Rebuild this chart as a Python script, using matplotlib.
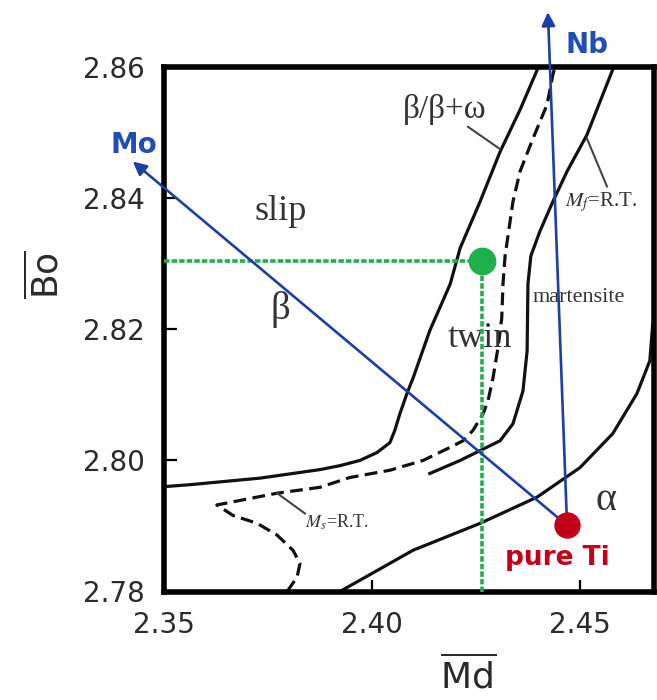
import matplotlib.pyplot as plt
import numpy as np

# boundaries (Md, Bo)
bw_md = [2.3500, 2.3563, 2.3731, 2.3875, 2.3923, 2.3971, 2.4012, 2.4043,
         2.4055, 2.4067, 2.4084, 2.4099, 2.4139, 2.4188, 2.4212, 2.4260,
         2.4308, 2.4356, 2.4400]
bw_bo = [2.7960, 2.7963, 2.7973, 2.7986, 2.7992, 2.8000, 2.8012, 2.8027,
         2.8046, 2.8071, 2.8102, 2.8126, 2.8198, 2.8269, 2.8324, 2.8395,
         2.8471, 2.8535, 2.8600]

ms_md = [2.3796, 2.3820, 2.3827, 2.3810, 2.3772, 2.3724, 2.3666, 2.3627,
         2.3683, 2.3772, 2.3875, 2.3947, 2.4043, 2.4123, 2.4188, 2.4219,
         2.4243, 2.4267, 2.4279, 2.4291, 2.4303, 2.4312, 2.4315, 2.4320,
         2.4339, 2.4356, 2.4387, 2.4421, 2.4435, 2.4440]
ms_bo = [2.7800, 2.7822, 2.7843, 2.7863, 2.7886, 2.7904, 2.7916, 2.7932,
         2.7939, 2.7950, 2.7959, 2.7974, 2.7985, 2.8000, 2.8020, 2.8030,
         2.8046, 2.8071, 2.8091, 2.8126, 2.8172, 2.8217, 2.8269, 2.8312,
         2.8395, 2.8441, 2.8491, 2.8543, 2.8589, 2.8600]

mf_md = [2.4139, 2.4212, 2.4260, 2.4308, 2.4339, 2.4363, 2.4373, 2.4375,
         2.4382, 2.4404, 2.4435, 2.4469, 2.4517, 2.4581]
mf_bo = [2.7980, 2.8000, 2.8015, 2.8030, 2.8056, 2.8106, 2.8167, 2.8269,
         2.8312, 2.8350, 2.8395, 2.8441, 2.8497, 2.8600]

al_md = [2.3923, 2.4099, 2.4260, 2.4397, 2.4500, 2.4579, 2.4637, 2.4668,
         2.4675, 2.4692]
al_bo = [2.7800, 2.7863, 2.7904, 2.7944, 2.7989, 2.8041, 2.8102, 2.8152,
         2.8208, 2.8243]

ti = (2.4469, 2.7901)
mo_tip = (2.3425, 2.8456)
nb_tip = (2.4423, 2.8684)
alloy = (2.4265, 2.8304)

xticks = [2.35, 2.40, 2.45]
yticks = [2.78, 2.80, 2.82, 2.84, 2.86]

fig = plt.figure(figsize=(6.57, 7.0), dpi=100)
ax = fig.add_axes([0.2496, 0.155, 0.7458, 0.749])
ax.set_xlim(2.35, 2.4678)
ax.set_ylim(2.78, 2.86)

blk = '#111111'
ax.plot(bw_md, bw_bo, color=blk, lw=2.3)
ax.plot(ms_md, ms_bo, color=blk, lw=2.3, ls=(0, (4, 2)))
ax.plot(mf_md, mf_bo, color=blk, lw=2.3)
ax.plot(al_md, al_bo, color=blk, lw=2.3)

# leader lines for labels
gry = '#444444'
ax.plot([2.4231, 2.4308], [2.8509, 2.8475], color=gry, lw=1.5)
ax.plot([2.4517, 2.4565], [2.8491, 2.8418], color=gry, lw=1.5)
ax.plot([2.3772, 2.3839], [2.7950, 2.7919], color=gry, lw=1.5)

serif = 'Liberation Serif'
txt = '#333333'
ax.text(2.4175, 2.8535, 'β/β+ω', family=serif, fontsize=24, color=txt,
        ha='center', va='center')
ax.text(2.3781, 2.8380, 'slip', family=serif, fontsize=26, color=txt,
        ha='center', va='center')
ax.text(2.3779, 2.8231, 'β', family=serif, fontsize=28, color=txt,
        ha='center', va='center')
ax.text(2.4260, 2.8186, 'twin', family=serif, fontsize=26, color=txt,
        ha='center', va='center')
ax.text(2.4387, 2.8248, 'martensite', family=serif, fontsize=16,
        color=txt, ha='left', va='center', clip_on=True)
ax.text(2.4562, 2.7939, 'α', family=serif, fontsize=29, color=txt,
        ha='center', va='center')
ax.text(2.3839, 2.7906, r'$M_s$=R.T.', family=serif, math_fontfamily='stix',
        fontsize=13, color=txt, ha='left', va='center')
ax.text(2.4464, 2.8395, r'$M_f$=R.T.', family=serif, math_fontfamily='stix',
        fontsize=15, color=txt, ha='left', va='center', clip_on=True)

# green guide lines to the alloy point
grn = '#1fb04c'
ax.plot([2.35, alloy[0]], [alloy[1], alloy[1]], color=grn, lw=2.6,
        ls=(0, (1.5, 0.6)), zorder=4)
ax.plot([alloy[0], alloy[0]], [2.78, alloy[1]], color=grn, lw=2.6,
        ls=(0, (1.5, 0.6)), zorder=4)

# alloying vectors from pure Ti
blu = '#1c3fa6'
for tip in (mo_tip, nb_tip):
    ax.annotate('', xy=tip, xytext=ti, annotation_clip=False,
                arrowprops=dict(arrowstyle='-|>', color=blu, lw=1.9,
                                mutation_scale=20, shrinkA=0, shrinkB=0),
                zorder=5)
ax.text(2.3428, 2.8482, 'Mo', color='#1f4fb5', fontsize=20,
        fontweight='bold', ha='center', va='center')
ax.text(2.4517, 2.8634, 'Nb', color='#1f4fb5', fontsize=20,
        fontweight='bold', ha='center', va='center')

ax.plot(*alloy, 'o', color=grn, ms=19, zorder=6)
ax.plot(*ti, 'o', color='#c40018', ms=18, zorder=6)
ax.text(2.4445, 2.7851, 'pure Ti', color='#c40018', fontsize=19,
        fontweight='bold', ha='center', va='center')

ax.set_xticks(xticks)
ax.set_yticks(yticks)
ax.set_xticklabels(['%.2f' % v for v in xticks])
ax.set_yticklabels(['%.2f' % v for v in yticks])
ax.tick_params(direction='in', length=9, width=1.6, labelsize=20,
               labelcolor='#2a2a2a', pad=14, top=False, right=False)
for sp in ax.spines.values():
    sp.set_linewidth(4)
    sp.set_color('black')

ax.set_xlabel(r'$\overline{\mathrm{Md}}$', math_fontfamily='dejavusans',
              fontsize=26, color='#2a2a2a', va='center')
ax.xaxis.set_label_coords(0.620, -0.159)
ax.set_ylabel(r'$\overline{\mathrm{Bo}}$', math_fontfamily='dejavusans',
              fontsize=26, color='#2a2a2a', va='center')
ax.yaxis.set_label_coords(-0.243, 0.604)

fig.savefig('out.png', dpi=100)
